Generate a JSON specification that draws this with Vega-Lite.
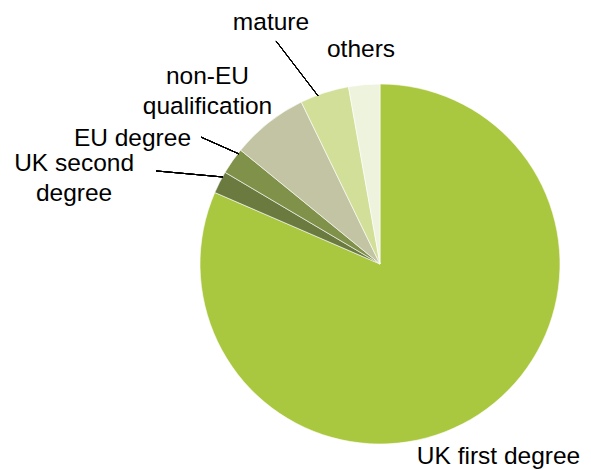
{
  "$schema": "https://vega.github.io/schema/vega-lite/v6.json",
  "autosize": {"type": "none"},
  "padding": {"left": 200, "top": 84, "right": 31, "bottom": 26},
  "width": 360,
  "height": 360,
  "background": "white",
  "config": {"view": {"stroke": null}, "text": {"font": "Liberation Sans", "fontSize": 24.5, "color": "#000000", "baseline": "alphabetic", "align": "center", "lineBreak": "\n", "lineHeight": 30}},
  "data": {"values": [
    {"order": 1, "label": "UK first degree", "value": 81.5},
    {"order": 2, "label": "UK second\ndegree", "value": 2.0},
    {"order": 3, "label": "EU degree", "value": 2.4},
    {"order": 4, "label": "non-EU\nqualification", "value": 6.9},
    {"order": 5, "label": "mature", "value": 4.4},
    {"order": 6, "label": "others", "value": 2.8}
  ]},
  "layer": [
    {
      "mark": {"type": "arc", "stroke": "#ffffff", "strokeWidth": 0.6},
      "encoding": {
        "theta": {"field": "value", "type": "quantitative", "stack": true},
        "order": {"field": "order", "type": "quantitative"},
        "color": {"field": "label", "type": "nominal", "legend": null,
          "scale": {"domain": ["UK first degree", "UK second\ndegree", "EU degree", "non-EU\nqualification", "mature", "others"],
                    "range": ["#a9c73f", "#6b7b40", "#80924a", "#c3c4a3", "#d2df98", "#eef3dd"]}}
      }
    },
    {
      "transform": [{"filter": "datum.order == 1"}],
      "mark": {"type": "text"},
      "encoding": {
        "text": {"field": "label"},
        "x": {"datum": 66.2, "type": "quantitative", "scale": {"domain": [-100.56, 100.56], "nice": false, "zero": false}, "axis": null},
        "y": {"datum": -111.7, "type": "quantitative", "scale": {"domain": [-100.56, 100.56], "nice": false, "zero": false}, "axis": null}
      }
    },
    {
      "transform": [{"filter": "datum.order == 2"}],
      "mark": {"type": "text"},
      "encoding": {
        "text": {"field": "label"},
        "x": {"datum": -170.9, "type": "quantitative"},
        "y": {"datum": 52.0, "type": "quantitative"}
      }
    },
    {
      "transform": [{"filter": "datum.order == 3"}],
      "mark": {"type": "text"},
      "encoding": {
        "text": {"field": "label"},
        "x": {"datum": -138.3, "type": "quantitative"},
        "y": {"datum": 66.2, "type": "quantitative"}
      }
    },
    {
      "transform": [{"filter": "datum.order == 4"}],
      "mark": {"type": "text"},
      "encoding": {
        "text": {"field": "label"},
        "x": {"datum": -96.4, "type": "quantitative"},
        "y": {"datum": 100.6, "type": "quantitative"}
      }
    },
    {
      "transform": [{"filter": "datum.order == 5"}],
      "mark": {"type": "text"},
      "encoding": {
        "text": {"field": "label"},
        "x": {"datum": -60.9, "type": "quantitative"},
        "y": {"datum": 130.7, "type": "quantitative"}
      }
    },
    {
      "transform": [{"filter": "datum.order == 6"}],
      "mark": {"type": "text"},
      "encoding": {
        "text": {"field": "label"},
        "x": {"datum": -10.6, "type": "quantitative"},
        "y": {"datum": 115.6, "type": "quantitative"}
      }
    },
    {
      "mark": {"type": "rule", "color": "#000000", "strokeWidth": 1},
      "encoding": {
        "x": {"datum": -58.1, "type": "quantitative"},
        "y": {"datum": 124.6, "type": "quantitative"},
        "x2": {"datum": -34.6},
        "y2": {"datum": 93.9}
      }
    },
    {
      "mark": {"type": "rule", "color": "#000000", "strokeWidth": 1},
      "encoding": {
        "x": {"datum": -100.0, "type": "quantitative"},
        "y": {"datum": 70.9, "type": "quantitative"},
        "x2": {"datum": -78.8},
        "y2": {"datum": 61.5}
      }
    },
    {
      "mark": {"type": "rule", "color": "#000000", "strokeWidth": 1},
      "encoding": {
        "x": {"datum": -125.1, "type": "quantitative"},
        "y": {"datum": 52.0, "type": "quantitative"},
        "x2": {"datum": -87.7},
        "y2": {"datum": 48.6}
      }
    }
  ]
}
